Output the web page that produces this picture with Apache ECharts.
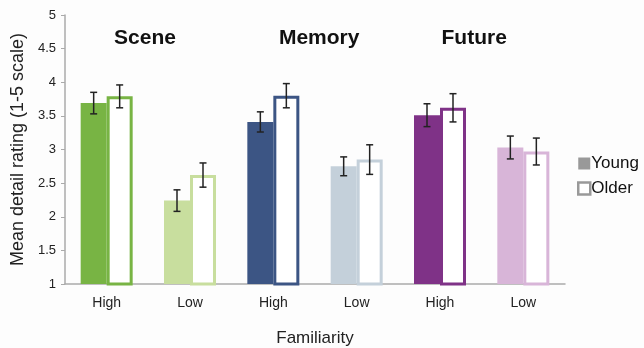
<!DOCTYPE html>
<html><head><meta charset="utf-8">
<script src="https://cdn.jsdelivr.net/npm/echarts@6/dist/echarts.min.js"></script>
<style>html,body{margin:0;padding:0;background:#fdfdfd}#c{width:644px;height:348px}</style>
</head><body><div id="c"></div>
<script>
const categories = ["High","Low","High","Low","High","Low"];
const groups = ["Scene","Memory","Future"];
const groupTitlePos = [0.46, 2.55, 4.41];
const youngValues = [3.69, 2.24, 3.41, 2.75, 3.51, 3.03];
const youngErrors = [0.16, 0.16, 0.15, 0.14, 0.17, 0.17];
const olderValues = [3.79, 2.62, 3.80, 2.85, 3.62, 2.97];
const olderErrors = [0.17, 0.18, 0.18, 0.22, 0.21, 0.20];
const barColors = ["#78b444","#c8de9e","#3c5584","#c4d0da","#7f3287","#d8b5d8"];
const yTicks = ["1","1.5","2","2.5","3","3.5","4","4.5","5"];

const BW = 26;
const font = "Helvetica, 'Liberation Sans', Arial, sans-serif";

function errSeries(vals, errs, offset) {
  return {
    type: 'custom',
    silent: true,
    z: 10,
    data: vals.map((v,i)=>[i, v, errs[i]]),
    renderItem: function(params, api) {
      const i = api.value(0), v = api.value(1), e = api.value(2);
      const hi = api.coord([i, v + e]);
      const lo = api.coord([i, v - e]);
      const x = hi[0] + offset;
      const cap = 3.5;
      const st = {stroke:'#222', lineWidth:1.5};
      return {type:'group', children:[
        {type:'line', shape:{x1:x,y1:hi[1],x2:x,y2:lo[1]}, style:st},
        {type:'line', shape:{x1:x-cap,y1:hi[1],x2:x+cap,y2:hi[1]}, style:st},
        {type:'line', shape:{x1:x-cap,y1:lo[1],x2:x+cap,y2:lo[1]}, style:st}
      ]};
    }
  };
}

function groupTitles() {
  return {
    type: 'custom',
    silent: true,
    data: groups.map((g,k)=>[groupTitlePos[k], 4.66]),
    renderItem: function(params, api) {
      const c0 = api.coord([0, api.value(1)]);
      const c1 = api.coord([1, api.value(1)]);
      const x = c0[0] + (c1[0]-c0[0]) * api.value(0);
      return {type:'text', style:{
        text: groups[params.dataIndex], x: x, y: c0[1],
        textAlign:'center', textVerticalAlign:'middle',
        font: "bold 21px " + font, fill:'#111'}};
    }
  };
}

const chart = echarts.init(document.getElementById('c'));
chart.setOption({
  backgroundColor: '#fdfdfd',
  animation: false,
  textStyle: {fontFamily: font},
  legend: {
    orient: 'vertical', left: 572, top: 150, itemWidth: 12, itemHeight: 12, itemGap: 8,
    textStyle: {fontSize: 17, color: '#111', fontFamily: font, padding:[0,0,0,-4]},
    data: [
      {name:'Young', icon:'rect', itemStyle:{color:'#999', borderWidth:0}},
      {name:'Older', icon:'rect', itemStyle:{color:'#fff', borderColor:'#999', borderWidth:2.5}}
    ]
  },
  grid: {left: 65, right: 79, top: 15, bottom: 64, containLabel: false, outerBoundsMode: 'none'},
  xAxis: {
    type: 'category', data: categories,
    name: 'Familiarity', nameLocation: 'middle', nameGap: 46,
    nameTextStyle: {fontSize: 17, color: '#222', fontFamily: font},
    axisLine: {lineStyle: {color: '#aaa', width: 1.5}},
    axisTick: {lineStyle: {color: '#aaa'}, length: 4},
    axisLabel: {fontSize: 14, color: '#222', margin: 12, fontFamily: font}
  },
  yAxis: {
    type: 'value', min: 1, max: 5, interval: 0.5,
    name: 'Mean detail rating (1-5 scale)', nameLocation: 'middle', nameGap: 35,
    nameTextStyle: {fontSize: 18, color: '#222', fontFamily: font},
    axisLine: {show: true, lineStyle: {color: '#aaa', width: 1.5}},
    axisTick: {show: true, lineStyle: {color: '#aaa'}, length: 4},
    splitLine: {show: false},
    axisLabel: {fontSize: 13, color: '#222', margin: 9, fontFamily: font,
      formatter: v => yTicks.find(t => Math.abs(parseFloat(t)-v) < 1e-6) || ''}
  },
  series: [
    {name:'Young', type:'bar', barWidth: BW, barGap: '0%',
     itemStyle:{color:'#999'},
     data: youngValues.map((v,i)=>({value:v, itemStyle:{color:barColors[i]}}))},
    {name:'Older', type:'bar', barWidth: BW, barGap: '0%',
     itemStyle:{color:'#fff', borderColor:'#999', borderWidth:3},
     data: olderValues.map((v,i)=>({value:v, itemStyle:{color:'#fff', borderColor:barColors[i], borderWidth:3}}))},
    errSeries(youngValues, youngErrors, -BW/2),
    errSeries(olderValues, olderErrors, BW/2),
    groupTitles()
  ]
});
</script></body></html>
